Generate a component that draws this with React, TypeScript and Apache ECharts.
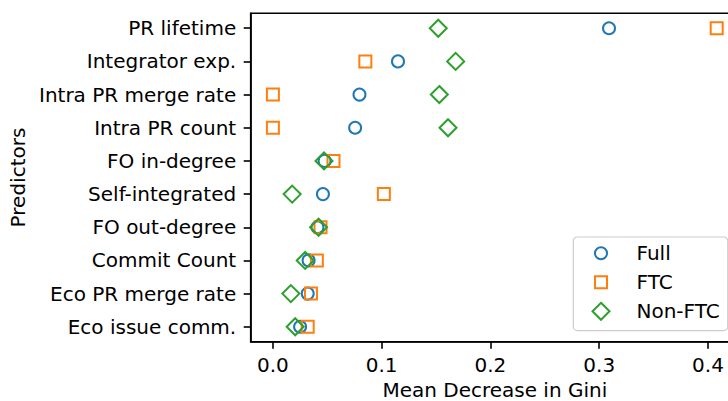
import React, { useEffect, useRef } from 'react';
import * as echarts from 'echarts';

const categories = [
  'PR lifetime',
  'Integrator exp.',
  'Intra PR merge rate',
  'Intra PR count',
  'FO in-degree',
  'Self-integrated',
  'FO out-degree',
  'Commit Count',
  'Eco PR merge rate',
  'Eco issue comm.',
];
const fullValues = [0.309, 0.115, 0.0796, 0.0756, 0.0475, 0.046, 0.041, 0.0328, 0.032, 0.025];
const ftcValues = [0.408, 0.085, 0.0, 0.0, 0.0557, 0.102, 0.0438, 0.0404, 0.035, 0.032];
const nonFtcValues = [0.152, 0.168, 0.153, 0.161, 0.047, 0.0177, 0.042, 0.0297, 0.0165, 0.0205];
const xTicks = [0, 0.1, 0.2, 0.3, 0.4];
const seriesNames = ['Full', 'FTC', 'Non-FTC'];
const colors = ['#1f77b4', '#ff7f0e', '#2ca02c'];

const FONT = 'DejaVu Sans';
const FS = 20;

export default function App() {
  const ref = useRef<HTMLDivElement>(null);
  useEffect(() => {
    const chart = echarts.init(ref.current!, null, { renderer: 'svg' });
    const yTicks = categories.map((_, i) => i);
    const mk = (name: string, vals: number[], symbol: string, size: number, color: string) => ({
      type: 'scatter',
      name,
      data: vals.map((v, i) => [v, i]),
      symbol,
      symbolSize: size,
      itemStyle: { color: 'rgba(0,0,0,0)', borderColor: color, borderWidth: 2, opacity: 1 },
      emphasis: { disabled: true },
    });
    const legendIcons = [
      'path://M0,0M17,17M14.5,8.5A6,6,0,1,1,2.5,8.5A6,6,0,1,1,14.5,8.5Z',
      'path://M0,0M17,17M2.5,2.5L14.5,2.5L14.5,14.5L2.5,14.5Z',
      'path://M8.5,0L17,8.5L8.5,17L0,8.5Z',
    ];
    const axisLine = { show: true, onZero: false, lineStyle: { color: '#000', width: 1.6 } };
    chart.setOption({
      animation: false,
      grid: {
        left: 250.7,
        top: 13.3,
        bottom: 59.3,
        right: -10.9,
        outerBoundsMode: 'none',
        containLabel: false,
        show: true,
        borderColor: '#000',
        borderWidth: 1.6,
        backgroundColor: 'rgba(0,0,0,0)',
      },
      xAxis: {
        type: 'value',
        min: -0.0204,
        max: 0.4284,
        name: 'Mean Decrease in Gini',
        nameLocation: 'middle',
        nameGap: 38.5,
        nameTextStyle: { fontSize: FS, color: '#000', fontFamily: FONT },
        axisLine,
        axisTick: { show: true, length: 7, lineStyle: { color: '#000', width: 1.6 }, customValues: xTicks },
        axisLabel: {
          customValues: xTicks,
          formatter: (v: number) => v.toFixed(1),
          margin: 13.5,
          fontSize: FS,
          color: '#000',
          fontFamily: FONT,
        },
        splitLine: { show: false },
      },
      yAxis: {
        type: 'value',
        inverse: true,
        min: -0.45,
        max: 9.45,
        name: 'Predictors',
        nameLocation: 'middle',
        nameRotate: 90,
        nameGap: 219,
        nameTextStyle: { fontSize: FS, color: '#000', fontFamily: FONT },
        axisLine,
        axisTick: { show: true, length: 7, lineStyle: { color: '#000', width: 1.6 }, customValues: yTicks },
        axisLabel: {
          customValues: yTicks,
          formatter: (v: number) => categories[Math.round(v)] ?? '',
          margin: 14.5,
          fontSize: FS,
          color: '#000',
          fontFamily: FONT,
        },
        splitLine: { show: false },
      },
      legend: {
        orient: 'vertical',
        left: 573.3,
        top: 237,
        padding: [6.3, 8, 9.3, 18.2],
        itemWidth: 17,
        itemHeight: 17,
        itemGap: 9,
        selectedMode: false,
        backgroundColor: 'rgba(255,255,255,0.8)',
        borderColor: '#cccccc',
        borderWidth: 1.2,
        borderRadius: 4,
        textStyle: { fontSize: FS, color: '#000', fontFamily: FONT, lineHeight: 20, padding: [0, 0, 0, 22] },
        data: seriesNames.map((n, i) => ({
          name: n,
          icon: legendIcons[i],
          itemStyle: { color: 'rgba(0,0,0,0)', borderColor: colors[i], borderWidth: 2, opacity: 1 },
        })),
      },
      series: [
        mk(seriesNames[0], fullValues, 'circle', 12, colors[0]),
        mk(seriesNames[1], ftcValues, 'rect', 12, colors[1]),
        mk(seriesNames[2], nonFtcValues, 'diamond', 17, colors[2]),
      ],
    });
    return () => chart.dispose();
  }, []);
  return <div ref={ref} style={{ position: 'absolute', left: 0, top: 0, width: 728, height: 401 }} />;
}
